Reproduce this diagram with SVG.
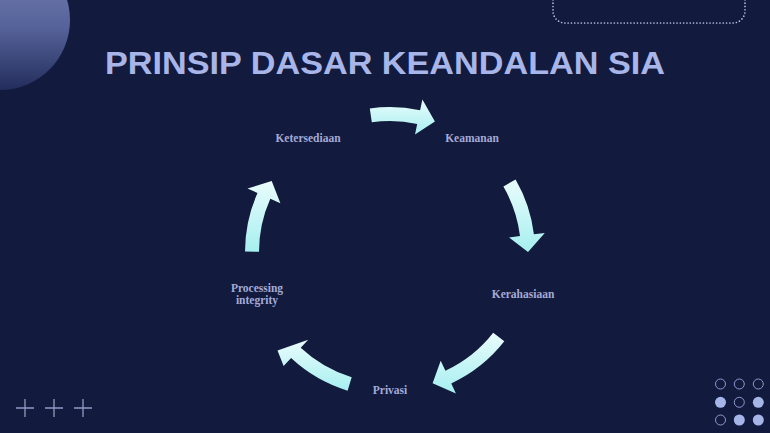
<svg xmlns="http://www.w3.org/2000/svg" width="770" height="433" viewBox="0 0 770 433">
<defs>
<linearGradient id="arrowGrad" x1="0" y1="0" x2="0" y2="1">
<stop offset="0" stop-color="#eafcfc"/>
<stop offset="1" stop-color="#a6eff0"/>
</linearGradient>
<linearGradient id="blobGrad" x1="0" y1="0" x2="0" y2="1">
<stop offset="0" stop-color="#7884b8"/>
<stop offset="0.55" stop-color="#56639a"/>
<stop offset="1" stop-color="#232d5c"/>
</linearGradient>
<style>
.bg{fill:#121a3d}
.title{font-family:"Liberation Sans",Arial,sans-serif;font-weight:bold;font-size:31.5px;fill:#a7b5e8}
.lbl{font-family:"Liberation Serif","Times New Roman",serif;font-weight:bold;font-size:11.5px;fill:#a4aad6;text-anchor:middle}
.arrow{fill:url(#arrowGrad)}
.plus{stroke:#8e9ac6;stroke-width:1.3;fill:none}
.dotO{fill:none;stroke:#8c99cd;stroke-width:1}
.dotF{fill:#a5b5e8}
</style>
</defs>
<rect class="bg" x="0" y="0" width="770" height="433"/>
<circle cx="0" cy="20" r="70" fill="url(#blobGrad)"/>
<rect x="553" y="-30" width="192" height="53" rx="12" fill="none" stroke="#b4bee0" stroke-width="1.7" stroke-linecap="round" stroke-dasharray="0 3.3"/>
<text class="title" x="385" y="73.5" text-anchor="middle" textLength="560" lengthAdjust="spacingAndGlyphs">PRINSIP DASAR KEANDALAN SIA</text>

<g id="connectors">
<path id="arrow1" class="arrow" d="M369.8,108.4 A145,145 0 0 1 420.1,110.2 L422.4,99.4 L434.9,121.5 L415.0,134.6 L417.2,123.9 A131,131 0 0 0 371.8,122.3 Z"/>
<path id="arrow2" class="arrow" d="M515.6,179.5 A145,145 0 0 1 533.9,234.3 L544.8,233.0 L528.0,252.0 L509.1,237.4 L520.0,236.0 A131,131 0 0 0 503.4,186.5 Z"/>
<path id="arrow3" class="arrow" d="M504.3,341.3 A145,145 0 0 1 451.3,383.4 L455.9,393.4 L432.6,383.3 L440.7,360.8 L445.4,370.7 A131,131 0 0 0 493.2,332.7 Z"/>
<path id="arrow4" class="arrow" d="M347.6,390.7 A145,145 0 0 1 291.1,358.1 L283.6,366.1 L277.5,350.5 L308.2,339.8 L300.7,347.8 A131,131 0 0 0 351.7,377.3 Z"/>
<path id="arrow5" class="arrow" d="M245.0,251.5 A145,145 0 0 1 257.5,193.0 L247.5,188.6 L271.7,180.9 L280.4,203.2 L270.3,198.7 A131,131 0 0 0 259.0,251.7 Z"/>
</g>

<g id="node-keamanan"><text class="lbl" x="472" y="141.5">Keamanan</text></g>
<g id="node-kerahasiaan"><text class="lbl" x="523" y="297.5">Kerahasiaan</text></g>
<g id="node-privasi"><text class="lbl" x="390" y="394">Privasi</text></g>
<g id="node-processing"><text class="lbl" x="257" y="291.5">Processing</text><text class="lbl" x="257" y="303.5">integrity</text></g>
<g id="node-ketersediaan"><text class="lbl" x="308" y="141.5">Ketersediaan</text></g>

<g id="plus-signs">
<path class="plus" d="M16,408 H34 M25,399 V417 M45,408 H63 M54,399 V417 M74,408 H92 M83,399 V417"/>
</g>
<g id="dot-grid">
<circle class="dotO" cx="720.5" cy="384" r="5"/>
<circle class="dotO" cx="739.3" cy="384" r="5"/>
<circle class="dotO" cx="758.3" cy="384" r="5"/>
<circle class="dotF" cx="720.5" cy="402.3" r="5.5"/>
<circle class="dotO" cx="739.3" cy="402.3" r="5"/>
<circle class="dotF" cx="758.3" cy="402.3" r="5.5"/>
<circle class="dotO" cx="720.5" cy="420" r="5"/>
<circle class="dotF" cx="739.3" cy="420" r="5.5"/>
<circle class="dotF" cx="758.3" cy="420" r="5.5"/>
</g>
</svg>
